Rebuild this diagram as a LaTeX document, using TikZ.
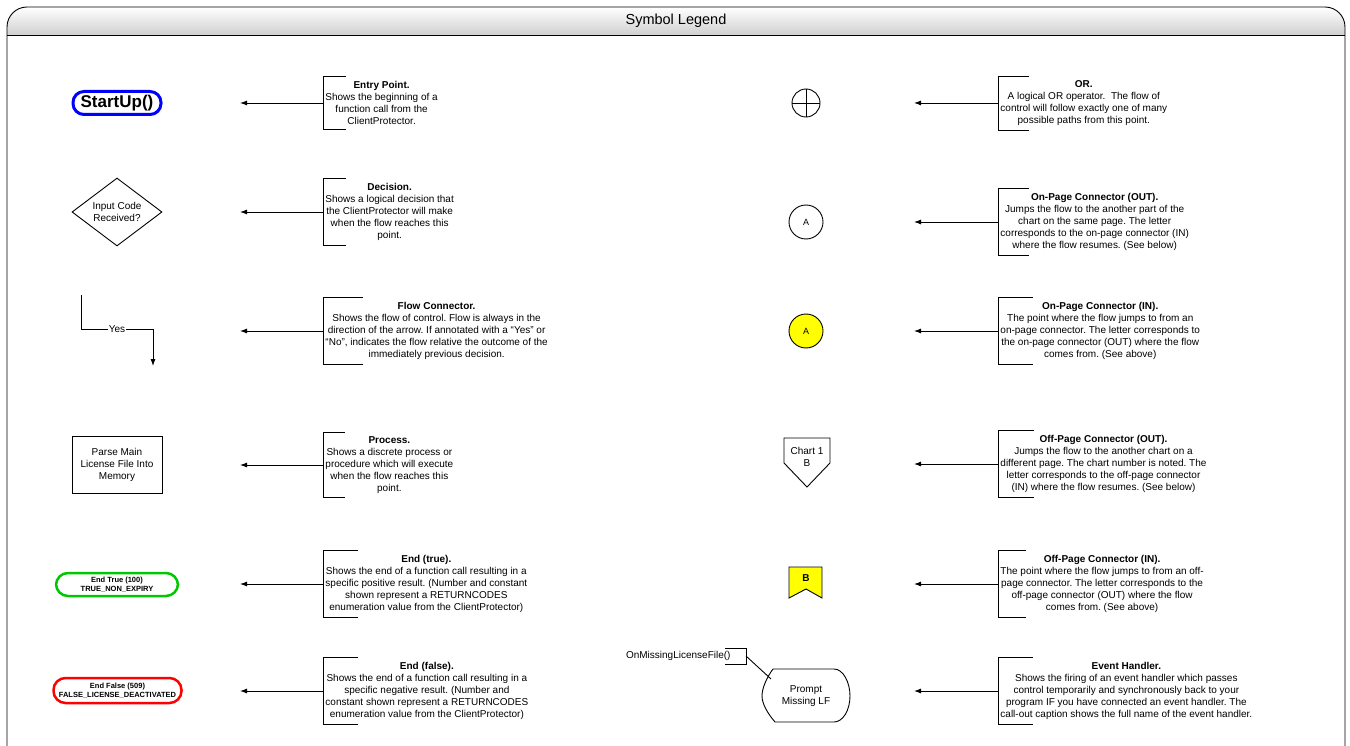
\documentclass[tikz,border=0pt]{standalone}
\usepackage{fontspec}
\setmainfont{Liberation Sans}
\usepackage{tikz}
\usetikzlibrary{calc,arrows.meta,shapes.geometric}

\definecolor{endgreen}{RGB}{0,200,0}
\definecolor{endred}{RGB}{255,0,0}
\definecolor{startblue}{RGB}{0,0,255}
\definecolor{connyellow}{RGB}{255,255,0}
\newcommand{\notesize}{\fontsize{10}{12}\selectfont}
\frenchspacing

\begin{document}
\begin{tikzpicture}[x=1pt,y=-1pt,line width=0.9pt,>={Latex[length=7pt,width=5pt]},
    note/.style={anchor=west,align=center,font=\notesize,inner xsep=2pt,inner ysep=4pt},
    symtext/.style={align=center,font=\notesize,inner sep=0pt},
    endbox/.style={draw,line width=2.5pt,rounded corners=12pt,align=center,
        font=\fontsize{7.5}{9}\selectfont\bfseries,inner sep=0pt}]

        \useasboundingbox (0,0) rectangle (1350,746);

        % Frame with the title bar
        \begin{scope}
            \clip (0,0) rectangle (1350,35);
            \shade[top color=white,bottom color=black!35,rounded corners=20pt] (7,7) rectangle (1345,60);
        \end{scope}
        \draw[rounded corners=20pt] (7,749) -- (7,7) -- (1345,7) -- (1345,749);
        \draw (7,35) -- (1345,35);
        \node[font=\fontsize{14.5}{16}\selectfont] (title) at (676,21) {Symbol Legend};

        % Arrow tips of the two columns
        \coordinate (tipL) at (240,0);
        \coordinate (tipR) at (914,0);

        % Left column: symbols
        \node[draw=startblue,line width=3pt,rounded corners=11pt,minimum width=88,minimum height=23,
            font=\fontsize{17}{20}\selectfont\bfseries,inner sep=0pt] (startup) at (117,103) {StartUp()};
        \node[draw,diamond,aspect=1.32,minimum width=90,minimum height=68,symtext] (decide) at (117,212) {Input Code\\Received?};
        \coordinate (fcA) at (81,295);
        \coordinate (fcB) at (153,366);
        \draw[->] (fcA) -- (81,329) -- node[fill=white,inner sep=1pt,font=\notesize] (yes) {Yes} (153,329) -- (fcB);
        \node[draw,minimum width=90,minimum height=57,symtext] (parse) at (117,465) {Parse Main\\License File Into\\Memory};
        \node[endbox,draw=endgreen,minimum width=122,minimum height=23] (endtrue) at (117,584.5) {End True (100)\\TRUE\_NON\_EXPIRY};
        \node[endbox,draw=endred,minimum width=128,minimum height=25] (endfalse) at (117.5,690.5) {End False (509)\\FALSE\_LICENSE\_DEACTIVATED};

        % Left column: notes
        \node[note] (entrynote) at (323,103) {\textbf{Entry Point.}\\Shows the beginning of a\\function call from the\\ClientProtector.};
        \node[note] (decidenote) at (323,212) {\textbf{Decision.}\\Shows a logical decision that\\the ClientProtector will make\\when the flow reaches this\\point.};
        \node[note] (flownote) at (323,331) {\textbf{Flow Connector.}\\Shows the flow of control. Flow is always in the\\direction of the arrow. If annotated with a “Yes” or\\“No”, indicates the flow relative the outcome of the\\immediately previous decision.};
        \node[note] (parsenote) at (323,465) {\textbf{Process.}\\Shows a discrete process or\\procedure which will execute\\when the flow reaches this\\point.};
        \node[note] (truenote) at (323,584) {\textbf{End (true).}\\Shows the end of a function call resulting in a\\specific positive result. (Number and constant\\shown represent a RETURNCODES\\enumeration value from the ClientProtector)};
        \node[note] (falsenote) at (323,691) {\textbf{End (false).}\\Shows the end of a function call resulting in a\\specific negative result. (Number and\\constant shown represent a RETURNCODES\\enumeration value from the ClientProtector)};

        % Right column: symbols
        \node[draw,circle,minimum size=28,inner sep=0pt] (orop) at (806,103) {};
        \draw (orop.north) -- (orop.south) (orop.west) -- (orop.east);
        \node[draw,circle,minimum size=34,inner sep=0pt,font=\fontsize{9}{11}\selectfont] (onout) at (806,222) {A};
        \node[draw,circle,fill=connyellow,minimum size=34,inner sep=0pt,font=\fontsize{9}{11}\selectfont] (onin) at (806,331) {A};
        \draw (784,438) -- (830,438) -- (830,463) -- (807,487) -- (784,463) -- cycle;
        \node[symtext] (offout) at (807,457) {Chart 1\\B};
        \draw[fill=connyellow] (789,567) -- (822,567) -- (822,598) -- (806,589) -- (789,598) -- cycle;
        \node[symtext,font=\notesize\bfseries] (offin) at (806,578) {B};
        \draw (773,669) -- (834,669) .. controls (843,669) and (850,682) .. (850,696)
            .. controls (850,710) and (843,722) .. (834,722) -- (775,722)
            .. controls (768,714) and (762,704) .. (762,696) .. controls (762,688) and (767,677) .. (773,669);
        \node[symtext] (prompt) at (806,696) {Prompt\\Missing LF};
        \node[anchor=east,font=\notesize,inner xsep=15pt,inner ysep=0pt] (callout) at (746,656) {OnMissingLicenseFile()};
        \draw ($(callout.east)+(-21,-8)$) -- ++(21,0) -- ++(0,16) -- ++(-21,0);
        \coordinate (hook) at (771,679);
        \draw (callout.east) -- (hook);

        % Right column: notes
        \node[note] (ornote) at (998,103) {\textbf{OR.}\\A logical OR operator.\ \ The flow of\\control will follow exactly one of many\\possible paths from this point.};
        \node[note] (onoutnote) at (998,222) {\textbf{On-Page Connector (OUT).}\\Jumps the flow to the another part of the\\chart on the same page. The letter\\corresponds to the on-page connector (IN)\\where the flow resumes. (See below)};
        \node[note] (oninnote) at (998,331) {\textbf{On-Page Connector (IN).}\\The point where the flow jumps to from an\\on-page connector. The letter corresponds to\\the on-page connector (OUT) where the flow\\comes from. (See above)};
        \node[note] (offoutnote) at (998,464) {\textbf{Off-Page Connector (OUT).}\\Jumps the flow to the another chart on a\\different page. The chart number is noted. The\\letter corresponds to the off-page connector\\(IN) where the flow resumes. (See below)};
        \node[note] (offinnote) at (998,584) {\textbf{Off-Page Connector (IN).}\\The point where the flow jumps to from an off-\\page connector. The letter corresponds to the\\off-page connector (OUT) where the flow\\comes from. (See above)};
        \node[note] (eventnote) at (998,691) {\textbf{Event Handler.}\\Shows the firing of an event handler which passes\\control temporarily and synchronously back to your\\program IF you have connected an event handler. The\\call-out caption shows the full name of the event handler.};

        % Brackets and pointers
        \foreach \n/\t/\tip in {entrynote/23/tipL,decidenote/23/tipL,flownote/40/tipL,parsenote/22/tipL,
            truenote/35/tipL,falsenote/35/tipL,ornote/31/tipR,onoutnote/31/tipR,oninnote/35/tipR,
            offoutnote/36/tipR,offinnote/28/tipR,eventnote/35/tipR}
        {
            \draw ($(\n.north west)+(\t,0)$) -- (\n.north west) -- (\n.south west) -- ++(\t,0);
            \draw[->] (\n.west) -- (\n.west -| \tip);
        }
    \end{tikzpicture}
\end{document}
